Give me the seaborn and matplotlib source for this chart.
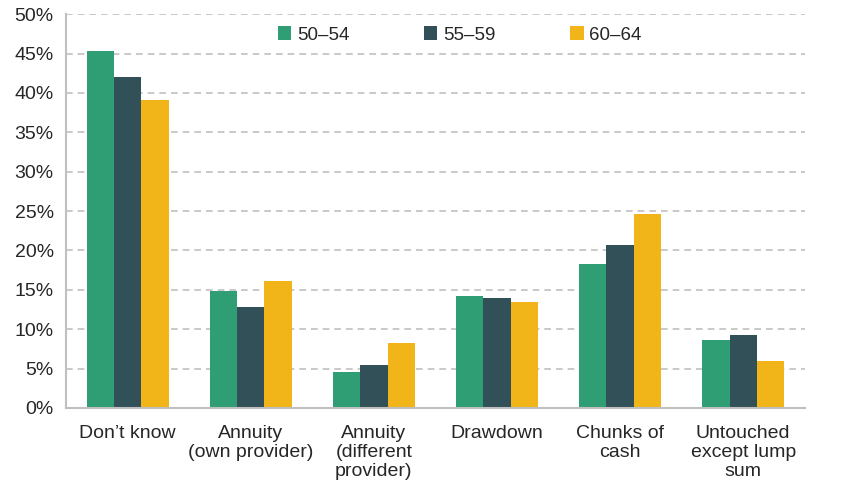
import pandas as pd
import matplotlib.pyplot as plt
import seaborn as sns
from matplotlib.ticker import FixedLocator, PercentFormatter

# Data
categories = ["Don\u2019t know", "Annuity\n(own provider)", "Annuity\n(different\nprovider)",
              "Drawdown", "Chunks of\ncash", "Untouched\nexcept lump\nsum"]
age_groups = ["50\u201354", "55\u201359", "60\u201364"]
share_50_54 = [45.3, 14.9, 4.6, 14.2, 18.3, 8.6]
share_55_59 = [42.0, 12.8, 5.5, 14.0, 20.7, 9.3]
share_60_64 = [39.1, 16.1, 8.2, 13.4, 24.6, 6.0]
colors = ["#2F9E74", "#325057", "#F1B51A"]

df = pd.DataFrame({
    "Category": categories * 3,
    "Age": [age_groups[0]] * 6 + [age_groups[1]] * 6 + [age_groups[2]] * 6,
    "Share": share_50_54 + share_55_59 + share_60_64,
})

sns.set_style("white")
plt.rcParams["font.family"] = ["Liberation Sans", "DejaVu Sans"]

fig = plt.figure(figsize=(8.48, 4.88), dpi=100)
ax = fig.add_axes([0.078, 0.164, 0.871, 0.807])

sns.barplot(data=df, x="Category", y="Share", hue="Age", palette=colors,
            width=0.667, saturation=1, ax=ax, linewidth=0)

ax.set_ylim(0, 50)
ax.set_xlim(-0.5, 5.5)
ax.set_yticks(range(0, 51, 5))
ax.yaxis.set_major_formatter(PercentFormatter(decimals=0))
ax.grid(axis="y", color="#c0c0c0", linestyle=(0, (4, 3)), linewidth=1.2)
ax.set_axisbelow(True)

for s in ["top", "right"]:
    ax.spines[s].set_visible(False)
for s in ["left", "bottom"]:
    ax.spines[s].set_color("#bfbfbf")
    ax.spines[s].set_linewidth(1.5)

ax.tick_params(axis="y", length=6, color="#bfbfbf", width=1.2, labelsize=14, pad=3)
ax.tick_params(axis="x", which="major", length=0, labelsize=14, pad=12)
for lab in ax.get_xticklabels():
    lab.set_linespacing(1.15)
ax.xaxis.set_minor_locator(FixedLocator([i - 0.5 for i in range(7)]))
ax.tick_params(axis="x", which="minor", length=6, color="#bfbfbf", width=1.2)
ax.set_xlabel("")
ax.set_ylabel("")

ax.legend(loc="center", bbox_to_anchor=(0.533, 0.947), ncol=3, frameon=False,
          fontsize=13.5, handlelength=0.7, handleheight=0.7, handletextpad=0.3,
          columnspacing=4.0)

fig.savefig("out.png", dpi=100)
